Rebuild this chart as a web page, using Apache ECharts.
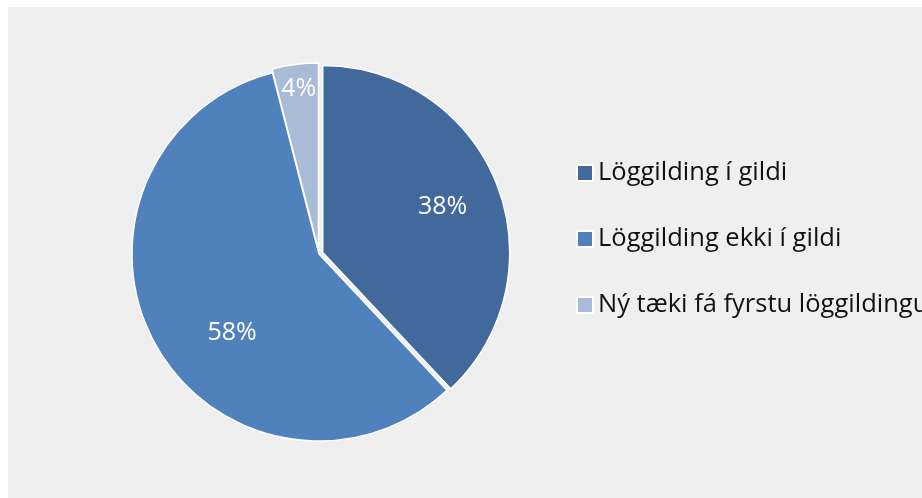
<!DOCTYPE html>
<html>
<head>
<meta charset="utf-8">
<script src="https://cdn.jsdelivr.net/npm/echarts@6/dist/echarts.min.js"></script>
<style>
  html, body { margin: 0; padding: 0; background: #ffffff; }
  #chart { position: absolute; left: 8px; top: 7px; width: 914px; height: 491px; }
</style>
</head>
<body>
<div id="chart"></div>
<script>
const categories = ['Löggilding í gildi', 'Löggilding ekki í gildi', 'Ný tæki fá fyrstu löggildingu']
const values = [38, 58, 4]
const colors = ['#41699c', '#4f81bd', '#aabbd8']
// small nudges so the labels sit where the original put them
const labelPadding = [[0, 2, 0, 0], [0, 0, 0, 61], [0, 7, 0, 0]]
const labelFormat = ['\n{d}%', '\n{d}%', '{d}%\n ']
const labelLineHeight = [5, 28, 64]

const chart = echarts.init(document.getElementById('chart'))

const fillData = categories.map((name, i) => ({
  name: name,
  value: values[i],
  selected: i !== 1,
  itemStyle: { color: colors[i] }
}))

const labelData = categories.map((name, i) => ({
  name: name,
  value: values[i],
  label: {
    padding: labelPadding[i],
    formatter: labelFormat[i],
    lineHeight: labelLineHeight[i]
  }
}))

const options = {
  backgroundColor: '#efefef',
  animation: false,
  legend: {
    orient: 'vertical',
    left: 563,
    top: 148,
    itemWidth: 16,
    itemHeight: 16,
    itemGap: 40,
    itemTextGap: 7,
    icon: 'rect',
    selectedMode: false,
    data: categories,
    textStyle: {
      fontFamily: 'Open Sans',
      fontSize: 25.5,
      lineHeight: 26,
      color: '#111111'
    }
  },
  series: [{
    type: 'pie',
    center: [311, 247],
    radius: [0, 187],
    startAngle: 90,
    selectedMode: 'multiple',
    selectedOffset: 4,
    silent: true,
    itemStyle: { borderColor: '#ffffff', borderWidth: 1.5 },
    label: { show: false },
    labelLine: { show: false },
    emphasis: { disabled: true },
    data: fillData
  }, {
    type: 'pie',
    center: [311, 247],
    radius: [75, 187],
    startAngle: 90,
    silent: true,
    itemStyle: { color: 'rgba(0,0,0,0)' },
    label: {
      show: true,
      position: 'inside',
      color: '#ffffff',
      fontFamily: 'Open Sans',
      fontSize: 25
    },
    labelLine: { show: false },
    emphasis: { disabled: true },
    data: labelData
  }]
}

chart.setOption(options)
</script>
</body>
</html>
